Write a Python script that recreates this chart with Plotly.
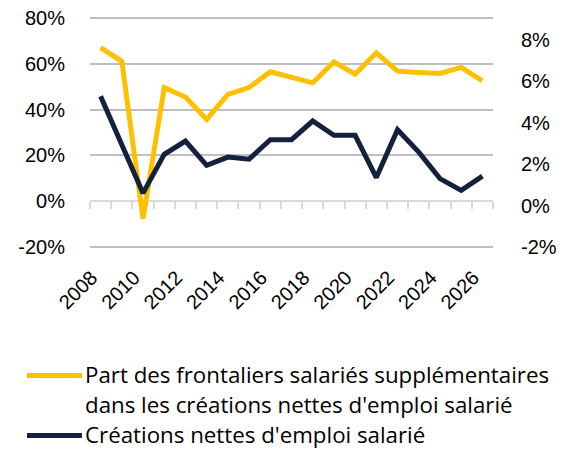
import plotly.graph_objects as go

years = list(range(2008, 2027))
part_frontaliers = [67.1, 61.1, -7.6, 49.6, 45.5, 35.7, 46.6, 49.6, 56.5, 54.3, 51.7,
                    60.8, 55.5, 64.8, 56.8, 56.2, 55.8, 58.4, 52.5]
creations_emploi = [5.28, 2.98, 0.60, 2.47, 3.11, 1.94, 2.34, 2.24, 3.18, 3.18, 4.08,
                    3.39, 3.39, 1.35, 3.66, 2.58, 1.30, 0.73, 1.42]
year_ticks = list(range(2008, 2027, 2))
left_ticks = [-20, 0, 20, 40, 60, 80]
right_ticks = [-2, 0, 2, 4, 6, 8]

name1_lines = ["Part des frontaliers salariés supplémentaires",
               "dans les créations nettes d'emploi salarié"]
name2 = "Créations nettes d'emploi salarié"
color1, color2 = "#FFC000", "#14213D"

OFF = 8  # page body margin
W, H = 564 - OFF, 451 - OFF
# plot area in window pixels (2px padding so edge gridlines are drawn)
win_left, win_right = 90, 493
win_top, win_bot = 15.5, 248.7
px_left, px_right = win_left - OFF, win_right - OFF
py_top, py_bot = win_top - OFF, win_bot - OFF
ml, mr, mt, mb = px_left, W - px_right, py_top, H - py_bot
plotW, plotH = px_right - px_left, py_bot - py_top


def pxx(x):
    return (x - OFF - px_left) / plotW


def pxy(y):
    return (py_bot - (y - OFF)) / plotH


yl_range = [-20.873, 80.873]
yr_range = [-2.096, 9.147]

fig = go.Figure()
fig.add_trace(go.Scatter(x=years, y=part_frontaliers, mode="lines", name=" ".join(name1_lines),
                         line=dict(color=color1, width=5), yaxis="y", xaxis="x",
                         showlegend=False))
fig.add_trace(go.Scatter(x=years, y=creations_emploi, mode="lines", name=name2,
                         line=dict(color=color2, width=5), yaxis="y2", xaxis="x",
                         showlegend=False))
# helper trace so the baseline axis (x2) is rendered
fig.add_trace(go.Scatter(x=[years[0]], y=[None], xaxis="x2", yaxis="y",
                         showlegend=False, hoverinfo="skip"))

tickfont = dict(family="Liberation Sans", size=20, color="#000000")
xr = [years[0] - 0.5, years[-1] + 0.5]
boundaries = [y - 0.5 for y in years] + [years[-1] + 0.5]

# manual legend (longer key lines than plotly's built-in legend)
legfont = dict(family="Open Sans", size=22.3, color="#000000")
shapes = []
annotations = []
for y_line, col in [(375.3, color1), (435.3, color2)]:
    shapes.append(dict(type="line", xref="paper", yref="paper",
                       x0=pxx(27), x1=pxx(82), y0=pxy(y_line), y1=pxy(y_line),
                       line=dict(color=col, width=5)))
for y_txt, txt in [(374.7, name1_lines[0]), (404.7, name1_lines[1]), (434.3, name2)]:
    annotations.append(dict(text=txt, xref="paper", yref="paper", x=pxx(83.3), y=pxy(y_txt),
                            xanchor="left", yanchor="middle", showarrow=False,
                            font=legfont, align="left"))

fig.update_layout(
    width=W, height=H,
    margin=dict(l=ml, r=mr, t=mt, b=mb, pad=0, autoexpand=False),
    paper_bgcolor="white", plot_bgcolor="white",
    showlegend=False,
    shapes=shapes, annotations=annotations,
    xaxis=dict(range=xr, tickvals=year_ticks, ticktext=[str(y) for y in year_ticks],
               tickangle=-45, showgrid=False,
               zeroline=False, showline=False, ticks="", tickfont=tickfont,
               ticklabelstandoff=12, ticklabelshift=-9, ticklabeloverflow="allow"),
    xaxis2=dict(range=xr, overlaying="x", anchor="free",
                position=(0 - yl_range[0]) / (yl_range[1] - yl_range[0]),
                tickvals=boundaries, ticks="outside", ticklen=7, tickwidth=1.5,
                tickcolor="#D9D9D9", showticklabels=False, showline=True,
                linecolor="#D9D9D9", linewidth=1.5, showgrid=False, zeroline=False,
                layer="below traces"),
    yaxis=dict(range=yl_range, tickvals=left_ticks,
               ticktext=[f"{v}%" for v in left_ticks], showgrid=True,
               gridcolor="#BFBFBF", gridwidth=1.5, zeroline=False, showline=False,
               ticks="", tickfont=tickfont, ticklabelstandoff=24,
               ticklabeloverflow="allow"),
    yaxis2=dict(range=yr_range, tickvals=right_ticks,
                ticktext=[f"{v}%" for v in right_ticks], overlaying="y",
                side="right", showgrid=False, zeroline=False, showline=False,
                ticks="", tickfont=tickfont, ticklabelstandoff=27,
                ticklabeloverflow="allow"),
)

fig.write_html("out.html")
